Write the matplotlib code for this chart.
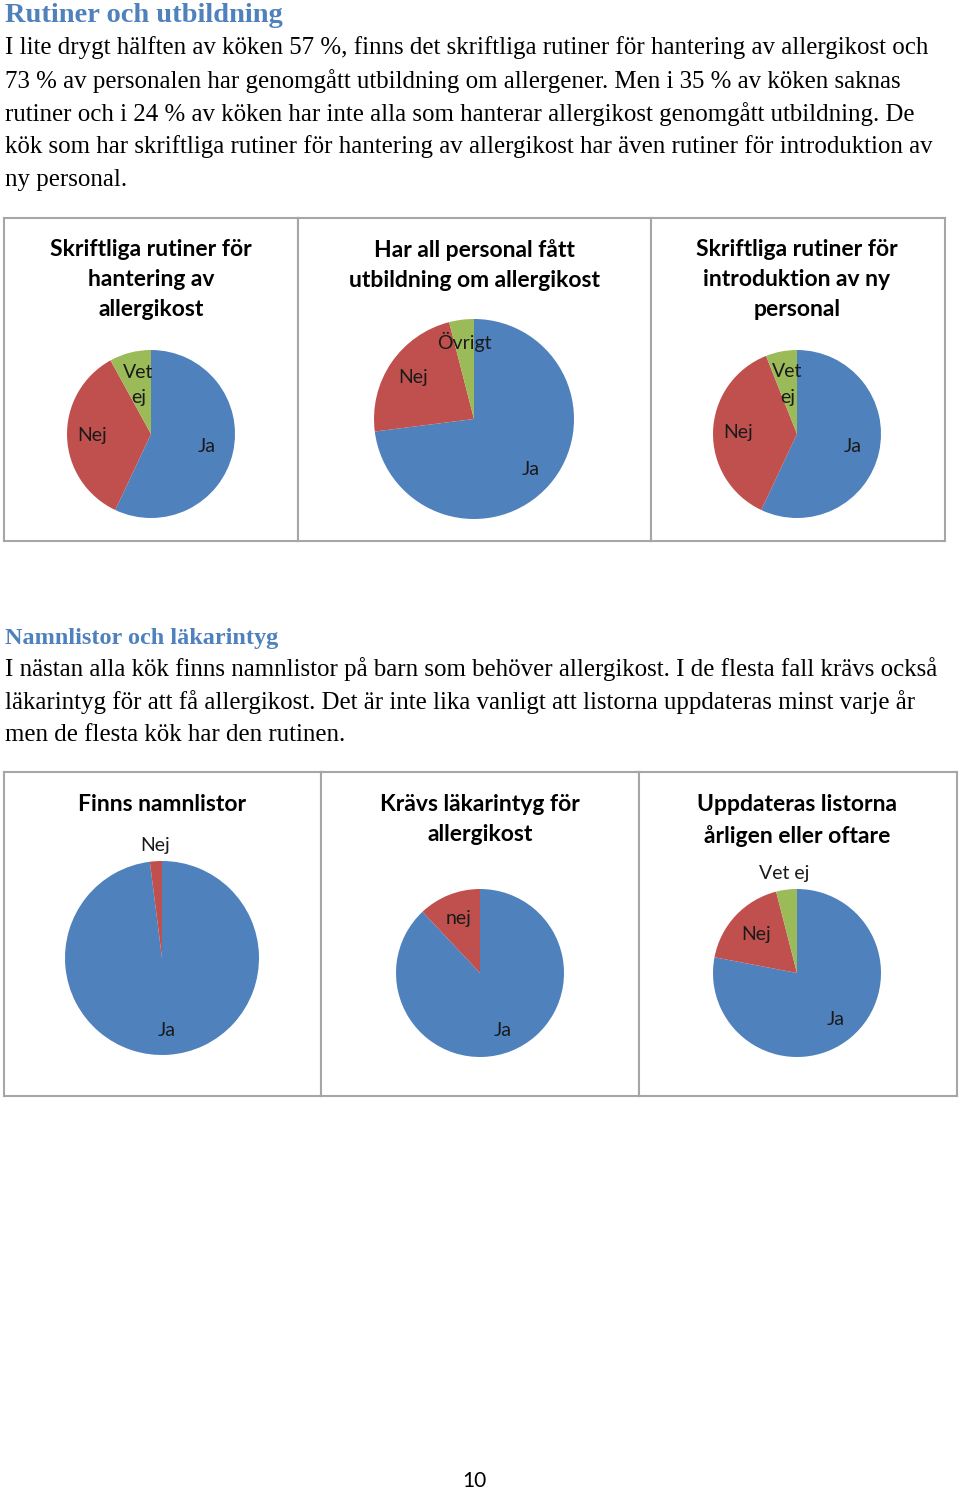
import numpy as np
import matplotlib.pyplot as plt

W, H = 960, 1490

blue = '#4F81BD'
red = '#C0504D'
green = '#9BBB59'
border = '#A6A6A6'

heading1 = 'Rutiner och utbildning'
para1 = [
    'I lite drygt hälften av köken 57 %, finns det skriftliga rutiner för hantering av allergikost och',
    '73 % av personalen har genomgått utbildning om allergener. Men i 35 % av köken saknas',
    'rutiner och i 24 % av köken har inte alla som hanterar allergikost genomgått utbildning. De',
    'kök som har skriftliga rutiner för hantering av allergikost har även rutiner för introduktion av',
    'ny personal.',
]
heading2 = 'Namnlistor och läkarintyg'
para2 = [
    'I nästan alla kök finns namnlistor på barn som behöver allergikost. I de flesta fall krävs också',
    'läkarintyg för att få allergikost. Det är inte lika vanligt att listorna uppdateras minst varje år',
    'men de flesta kök har den rutinen.',
]
page_no = '10'

# chart data
titles = [
    'Skriftliga rutiner för\nhantering av\nallergikost',
    'Har all personal fått\nutbildning om allergikost',
    'Skriftliga rutiner för\nintroduktion av ny\npersonal',
    'Finns namnlistor',
    'Krävs läkarintyg för\nallergikost',
    'Uppdateras listorna\nårligen eller oftare',
]
labels = [
    ['Ja', 'Nej', 'Vet\nej'],
    ['Ja', 'Nej', 'Övrigt'],
    ['Ja', 'Nej', 'Vet\nej'],
    ['Ja', 'Nej'],
    ['Ja', 'nej'],
    ['Ja', 'Nej', 'Vet ej'],
]
values = [
    [57, 35, 8],
    [73, 23, 4],
    [57, 37, 6],
    [98, 2],
    [88, 12],
    [78, 18, 4],
]

# layout (pixels): box x0, y0, x1, y1 ; pie centre, radius ; label distances
boxes = [(4, 218, 298, 541), (298, 218, 651, 541), (651, 218, 945, 541),
         (4, 772, 321, 1096), (321, 772, 639, 1096), (639, 772, 957, 1096)]
centres = [(151, 434), (474, 419), (797, 434), (162, 958), (480, 973), (797, 973)]
radii = [84, 100, 84, 97, 84, 84]
title_y = [239, 239, 239, 794, 794, 794]
label_dist = [
    [0.68, 0.70, 0.60],
    [0.76, 0.74, 0.78],
    [0.68, 0.70, 0.60],
    [0.75, 1.16],
    [0.73, 0.70],
    [0.72, 0.67, 1.19],
]

fig = plt.figure(figsize=(W / 100, H / 100), dpi=100)

def fx(x):
    return x / W

def fy(y):
    return 1 - y / H

serif = 'Liberation Serif'
sans = 'Lato'

fig.text(fx(5), fy(15), heading1, family=serif, weight='bold', size=20.5,
         color=blue, va='center')
for i, line in enumerate(para1):
    fig.text(fx(5), fy(48 + 33 * i), line, family=serif, size=17.9, va='center')

fig.text(fx(5), fy(638), heading2, family=serif, weight='bold', size=17.5,
         color=blue, va='center')
for i, line in enumerate(para2):
    fig.text(fx(5), fy(669 + 33 * i), line, family=serif, size=17.9, va='center')

fig.text(fx(474), fy(1481), page_no, family=sans, size=15, ha='center', va='center')

for k in range(6):
    x0, y0, x1, y1 = boxes[k]
    bw, bh = x1 - x0, y1 - y0
    ax = fig.add_axes([fx(x0), fy(y1), bw / W, bh / H])
    cx, cy = centres[k]
    c = (cx - x0, y1 - cy)
    wedges, _ = ax.pie(values[k], colors=[blue, red, green][:len(values[k])],
                       startangle=90, counterclock=False, radius=radii[k],
                       center=c, frame=True, wedgeprops=dict(linewidth=0))
    for w, lab, d in zip(wedges, labels[k], label_dist[k]):
        mid = np.deg2rad((w.theta1 + w.theta2) / 2)
        ax.text(c[0] + d * radii[k] * np.cos(mid), c[1] + d * radii[k] * np.sin(mid),
                lab, family=sans, size=14, color='#1a1a1a', ha='center',
                va='center', linespacing=1.58)
    ax.text(cx - x0, y1 - title_y[k], titles[k], family=sans, weight='bold',
            size=16.5, ha='center', va='top', linespacing=1.53)
    ax.set_xlim(0, bw)
    ax.set_ylim(0, bh)
    ax.set_xticks([])
    ax.set_yticks([])
    for s in ax.spines.values():
        s.set_color(border)
        s.set_linewidth(1.5)

fig.savefig('out.png', dpi=100)
